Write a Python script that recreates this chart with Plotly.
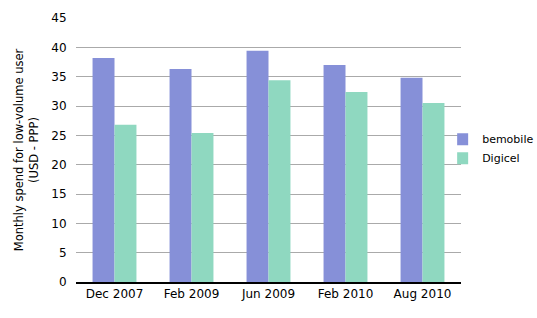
import plotly.graph_objects as go

categories = ["Dec 2007", "Feb 2009", "Jun 2009", "Feb 2010", "Aug 2010"]
bemobile = [38.2, 36.3, 39.4, 37.0, 34.8]
digicel = [26.8, 25.4, 34.4, 32.4, 30.5]
y_ticks = [0, 5, 10, 15, 20, 25, 30, 35, 40, 45]

fig = go.Figure()
fig.add_trace(go.Bar(x=categories, y=bemobile, name="bemobile", marker_color="#8690D8", marker_line_width=0))
fig.add_trace(go.Bar(x=categories, y=digicel, name="Digicel", marker_color="#8FD8C0", marker_line_width=0))

font = dict(family="DejaVu Sans, Verdana, sans-serif", size=12, color="#000000")
fig.update_layout(
    width=537, height=318,
    margin=dict(l=76, r=76, t=18, b=36, autoexpand=False),
    plot_bgcolor="white", paper_bgcolor="white",
    barmode="group", bargap=0.43, bargroupgap=0,
    font=font,
    showlegend=True,
    legend=dict(x=0.99, y=0.505, xanchor="left", yanchor="middle", font=dict(size=11),
                itemwidth=30, indentation=-15, tracegroupgap=0, bgcolor="rgba(0,0,0,0)"),
    xaxis=dict(showgrid=False, showline=True, linecolor="black", linewidth=1.5,
               ticks="", tickfont=dict(size=12)),
    yaxis=dict(range=[0, 45], tickvals=y_ticks, showgrid=True, gridcolor="#AAAAAA",
               gridwidth=1, zeroline=False, showline=False, ticks="outside",
               ticklen=6, tickcolor="white", tickfont=dict(size=12),
               title=dict(text="Monthly spend for low-volume user<br>(USD - PPP)",
                          font=dict(size=11.5), standoff=10)),
)
fig.write_html("out.html")
